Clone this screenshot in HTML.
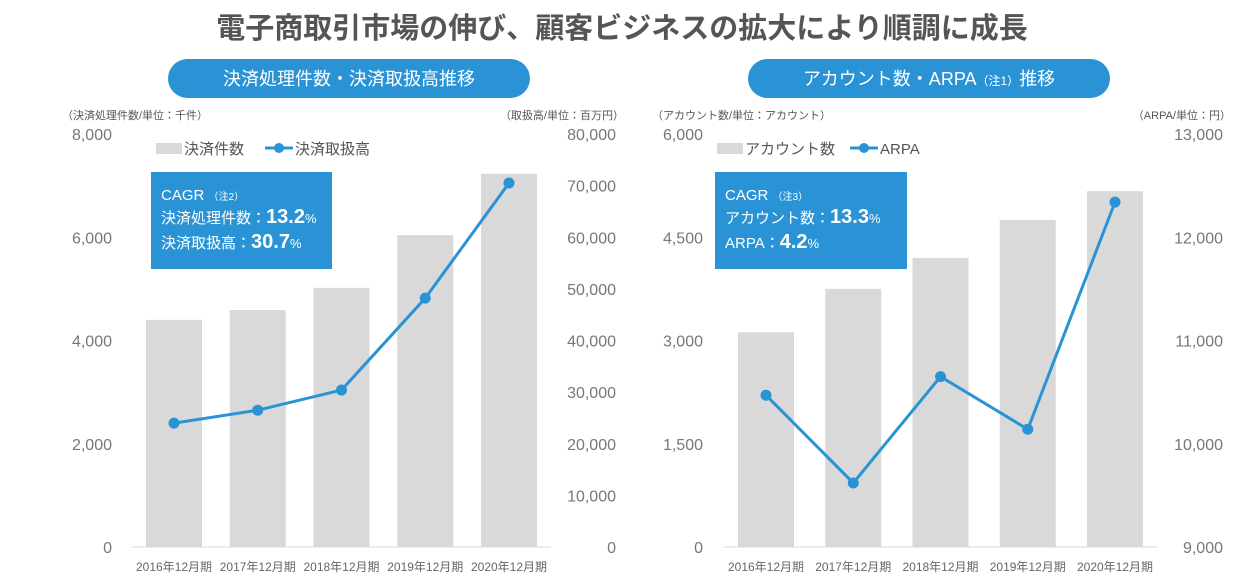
<!DOCTYPE html>
<html><head><meta charset="utf-8"><style>
body{margin:0;background:#fff;width:1244px;height:578px;overflow:hidden;font-family:"Liberation Sans","Noto Sans CJK JP",sans-serif;}
svg text{font-family:"Liberation Sans","Noto Sans CJK JP",sans-serif;}
</style></head><body>
<svg id="s" width="1244" height="578" xmlns="http://www.w3.org/2000/svg">
<text x="622" y="38" text-anchor="middle" font-size="29" font-weight="bold" fill="#555">電子商取引市場の伸び、顧客ビジネスの拡大により順調に成長</text>
<rect x="168" y="59" width="362" height="39" rx="19.5" fill="#2a93d5"/>
<text x="349" y="85" text-anchor="middle" font-size="18" fill="#fff">決済処理件数・決済取扱高推移</text>
<rect x="748" y="59" width="362" height="39" rx="19.5" fill="#2a93d5"/>
<text x="929" y="85" text-anchor="middle" font-size="18" fill="#fff">アカウント数・ARPA<tspan font-size="12">（注1）</tspan>推移</text>
<g id="L"></g><g id="R"></g>
</svg>
<script>
const years=["2016年12月期","2017年12月期","2018年12月期","2019年12月期","2020年12月期"];
const leftBars=[4400,4590,5020,6040,7230];
const leftLine=[24000,26500,30400,48200,70500];
const leftTicksY1=[0,2000,4000,6000,8000];
const leftTicksY2=[0,10000,20000,30000,40000,50000,60000,70000,80000];
const rightBars=[3120,3750,4200,4750,5170];
const rightLine=[10470,9620,10650,10140,12340];
const rightTicksY1=[0,1500,3000,4500,6000];
const rightTicksY2=[9000,10000,11000,12000,13000];
const NS="http://www.w3.org/2000/svg";
function mk(p,t,a,txt){const e=document.createElementNS(NS,t);for(const k in a)e.setAttribute(k,a[k]);if(txt!==undefined)e.textContent=txt;p.appendChild(e);return e;}
const fmt=v=>v.toLocaleString('en-US');
function chart(g,cfg){
  const top=134,bot=547;
  const y1=v=>bot-(v-cfg.y1min)/(cfg.y1max-cfg.y1min)*(bot-top);
  const y2=v=>bot-(v-cfg.y2min)/(cfg.y2max-cfg.y2min)*(bot-top);
  const xc=i=>cfg.x0+i*cfg.step;
  let e=mk(g,'text',{x:cfg.lx,y:119,'font-size':11,fill:'#555'},cfg.lunit);
  
  e=mk(g,'text',{x:cfg.rx+8,y:119,'font-size':11,fill:'#555','text-anchor':'end'},cfg.runit);
  
  cfg.t1.forEach(v=>{const t=mk(g,'text',{x:cfg.l1x,y:y1(v)+6,'font-size':16,fill:'#777','text-anchor':'end'},fmt(v));
    });
  cfg.t2.forEach(v=>{const t=mk(g,'text',{x:cfg.rx,y:y2(v)+6,'font-size':16,fill:'#777','text-anchor':'end'},fmt(v));
    });
  cfg.bars.forEach((v,i)=>{const r=mk(g,'rect',{x:xc(i)-28,y:y1(v),width:56,height:bot-y1(v),fill:'#d9d9d9'});
    });
  e=mk(g,'line',{x1:cfg.x0-42,x2:xc(4)+42,y1:bot,y2:bot,stroke:'#d9d9d9','stroke-width':1});
  
  years.forEach((s,i)=>{const t=mk(g,'text',{x:xc(i),y:571,'font-size':12,fill:'#666','text-anchor':'middle'},s);
    });
  const pts=cfg.line.map((v,i)=>xc(i)+','+y2(v)).join(' ');
  e=mk(g,'polyline',{points:pts,fill:'none',stroke:'#2a93d5','stroke-width':3});
  
  cfg.line.forEach((v,i)=>{const c=mk(g,'circle',{cx:xc(i),cy:y2(v),r:5.5,fill:'#2a93d5'});
    });
  const lg=mk(g,'g',{});
  
  mk(lg,'rect',{x:cfg.legx,y:143,width:26,height:11,fill:'#d9d9d9'});
  mk(lg,'text',{x:cfg.legx+28,y:154,'font-size':15,fill:'#555'},cfg.leg1);
  const lx=cfg.legx+28+cfg.leg1w;
  mk(lg,'line',{x1:lx,x2:lx+28,y1:148,y2:148,stroke:'#2a93d5','stroke-width':3});
  mk(lg,'circle',{cx:lx+14,cy:148,r:5,fill:'#2a93d5'});
  mk(lg,'text',{x:lx+30,y:154,'font-size':15,fill:'#555'},cfg.leg2);
  const bx=mk(g,'g',{});
  
  mk(bx,'rect',{x:cfg.bx,y:172,width:cfg.bw,height:97,fill:'#2a93d5'});
  const t0=mk(bx,'text',{x:cfg.bx+10,y:200,'font-size':15,fill:'#fff'},'CAGR ');
  mk(t0,'tspan',{'font-size':10},cfg.note);
  cfg.rows.forEach((r,i)=>{const t=mk(bx,'text',{x:cfg.bx+10,y:223+i*25,'font-size':15,fill:'#fff'},r[0]);
    mk(t,'tspan',{'font-size':20,'font-weight':'bold'},r[1]);mk(t,'tspan',{'font-size':13},'%');});
}
chart(document.getElementById('L'),{y1min:0,y1max:8000,y2min:0,y2max:80000,x0:174,step:83.75,bars:leftBars,line:leftLine,t1:leftTicksY1,t2:leftTicksY2,
 l1x:112,rx:616,lx:62,lunit:'（決済処理件数/単位：千件）',runit:'（取扱高/単位：百万円）',legx:156,leg1:'決済件数',leg1w:81,leg2:'決済取扱高',
 bx:151,bw:181,note:'（注2）',rows:[['決済処理件数：','13.2'],['決済取扱高：','30.7']]});
chart(document.getElementById('R'),{y1min:0,y1max:6000,y2min:9000,y2max:13000,x0:766,step:87.25,bars:rightBars,line:rightLine,t1:rightTicksY1,t2:rightTicksY2,
 l1x:703,rx:1223,lx:652,lunit:'（アカウント数/単位：アカウント）',runit:'（ARPA/単位：円）',legx:717,leg1:'アカウント数',leg1w:105,leg2:'ARPA',
 bx:715,bw:192,note:'（注3）',rows:[['アカウント数：','13.3'],['ARPA：','4.2']]});
</script>
</body></html>
